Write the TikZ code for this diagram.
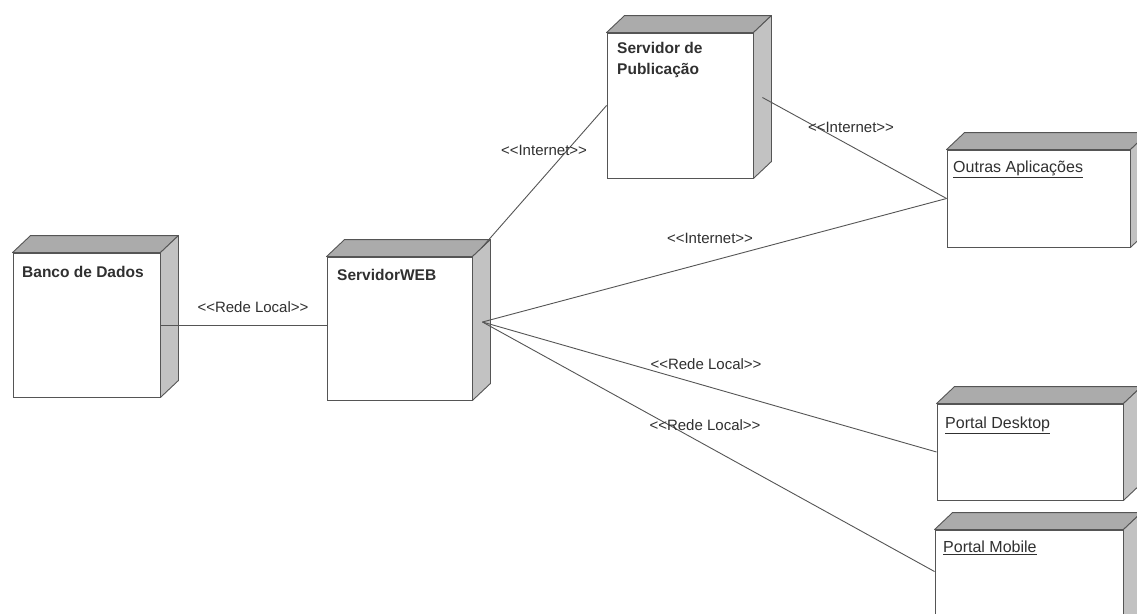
\documentclass[tikz,border=0pt]{standalone}
\usepackage{fontspec}
\setmainfont{Liberation Sans}
\usetikzlibrary{calc}
\definecolor{edge}{HTML}{555555}
\definecolor{topface}{HTML}{ABABAB}
\definecolor{sideface}{HTML}{C2C2C2}
\definecolor{txt}{HTML}{303030}
\tikzset{
  front/.style={draw=edge, fill=white, line width=0.9pt, rectangle, inner sep=0pt},
  title/.style={anchor=north west, inner sep=0pt, text=txt, font=\fontsize{15.5}{21}\selectfont\bfseries, align=left},
  utitle/.style={anchor=north west, inner sep=0pt, text=txt, font=\fontsize{16}{21}\selectfont},
  conn/.style={draw=edge, line width=0.9pt},
  stereo/.style={inner sep=0pt, text=txt, font=\fontsize{15}{16}\selectfont},
  topf/.style={fill=topface, draw=edge, line width=0.9pt, line join=round},
  sidef/.style={fill=sideface, draw=edge, line width=0.9pt, line join=round}
}
\newcommand{\cubefaces}[1]{%
  \draw[topf] (#1.north west) -- ++(18,-17) -- ($(#1.north east)+(18,-17)$) -- (#1.north east) -- cycle;
  \draw[sidef] (#1.north east) -- ++(18,-17) -- ($(#1.south east)+(18,-17)$) -- (#1.south east) -- cycle;
}
\newcommand{\st}[1]{<{}<#1>{}>}
\begin{document}
\begin{tikzpicture}[x=1pt,y=-1pt]
\useasboundingbox (0,0) rectangle (1137,613);
\fill[white] (0,0) rectangle (1137,613);
\begin{scope}
\clip (0,0) rectangle (1137,613);
% nodes (front faces)
\node[front, minimum width=147pt, minimum height=144pt] (banco) at (86.5,325) {};
\node[front, minimum width=145pt, minimum height=143pt] (web) at (399.5,328.5) {};
\node[front, minimum width=146pt, minimum height=145pt] (pub) at (680,105.5) {};
\node[front, minimum width=183pt, minimum height=97pt] (outras) at (1038.5,198.5) {};
\node[front, minimum width=186pt, minimum height=96pt] (desktop) at (1030,452) {};
\node[front, minimum width=188pt, minimum height=110pt] (mobile) at (1029,585) {};
\cubefaces{banco}
\cubefaces{web}
\cubefaces{pub}
\cubefaces{outras}
\cubefaces{desktop}
\cubefaces{mobile}
\end{scope}
% titles
\node[title] (tbanco) at (22,266) {Banco de Dados};
\node[title] (tweb) at (337,269) {ServidorWEB};
\node[title] (tpub) at (617,42) {Servidor de\\Publicação};
\node[utitle] (toutras) at (953,161) {\underline{Outras Aplicações}};
\node[utitle] (tdesktop) at (945,417) {\underline{Portal Desktop}};
\node[utitle] (tmobile) at (943,541) {\underline{Portal Mobile}};
% connection points
\coordinate (webR) at ($(web.east)+(10,-6.5)$);
\coordinate (webT) at ($(web.north east)+(9,-8.5)$);
\coordinate (pubR) at ($(pub.east)+(9,-8)$);
\coordinate (mobW) at ($(mobile.north west)+(0,42)$);
% connectors
\draw[conn] (banco.east) -- (banco.east -| web.west);
\draw[conn] (webT) -- (pub.west);
\draw[conn] (pubR) -- (outras.west);
\draw[conn] (webR) -- (outras.west);
\draw[conn] (webR) -- (desktop.west);
\draw[conn] (webR) -- (mobW);
% stereotypes
\node[stereo] (l1) at (253,307) {\st{Rede Local}};
\node[stereo] (l2) at (544,150) {\st{Internet}};
\node[stereo] (l3) at (851,127) {\st{Internet}};
\node[stereo] (l4) at (710,238) {\st{Internet}};
\node[stereo] (l5) at (706,364) {\st{Rede Local}};
\node[stereo] (l6) at (705,425) {\st{Rede Local}};
\end{tikzpicture}
\end{document}
